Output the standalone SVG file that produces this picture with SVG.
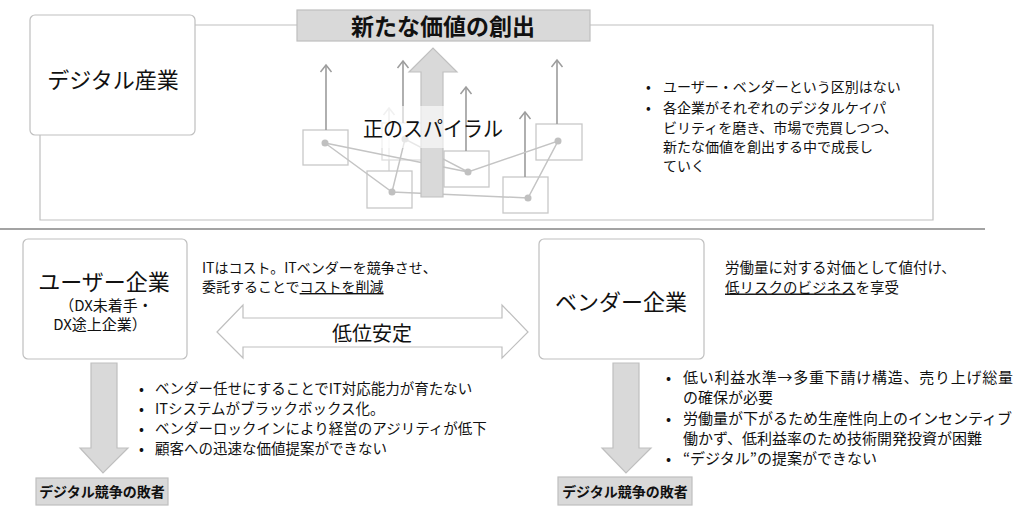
<svg xmlns="http://www.w3.org/2000/svg" width="1024" height="516" viewBox="0 0 1024 516">
<style>
text{font-family:"Noto Sans CJK JP","Noto Sans",sans-serif;fill:#111}
.box{fill:#fff;stroke:#bfbfbf;stroke-width:1.2}
.gbox{fill:#d9d9d9;stroke:#bfbfbf;stroke-width:1.2}
.frame{fill:none;stroke:#bfbfbf;stroke-width:1.2}
.sb{fill:none;stroke:#c8c8c8;stroke-width:1.3}
.sl{fill:none;stroke:#c4c4c4;stroke-width:1.5}
.sa{fill:none;stroke:#9c9c9c;stroke-width:1.6}
.dot{fill:#c0c0c0}
.t14{font-size:14px}
.t145{font-size:14.5px}
.t15{font-size:15px}
.b14{font-size:14px;font-weight:700}
.mid{text-anchor:middle}
</style>
<defs>
<marker id="oa" viewBox="-8 -7 10 14" refX="0" refY="0" markerWidth="10" markerHeight="14" orient="auto" markerUnits="userSpaceOnUse">
<path d="M-7,-5.5 L0,0 L-7,5.5" fill="none" stroke="#9c9c9c" stroke-width="1.5"/>
</marker>
<marker id="oaf" viewBox="-8 -7 10 14" refX="0" refY="0" markerWidth="10" markerHeight="14" orient="auto" markerUnits="userSpaceOnUse">
<path d="M-7,-5.5 L0,0 L-7,5.5" fill="none" stroke="#dadada" stroke-width="1.5"/>
</marker>
</defs>
<rect width="1024" height="516" fill="#fff"/>

<!-- frame of top section -->
<path class="frame" d="M195,25 H297 M590,25 H933 V220 H40 V135"/>
<line x1="0" y1="229" x2="985" y2="229" stroke="#858585" stroke-width="1.5"/>

<g id="digital">
<rect class="box" x="30" y="15" width="165" height="120" rx="5"/>
<text class="mid" x="113" y="88" font-size="22">デジタル産業</text>
</g>

<g id="title">
<rect class="gbox" x="297" y="10" width="293" height="31"/>
<text class="mid" x="443" y="34.5" font-size="23" font-weight="700">新たな価値の創出</text>
</g>

<g id="spiral">
<line x1="389" y1="171" x2="389" y2="108" stroke="#dadada" stroke-width="1.5" marker-end="url(#oaf)"/>
<rect x="382" y="123" width="45" height="37" fill="#fff" fill-opacity="0.6" stroke="#dedede" stroke-width="1.3"/>
<rect class="sb" x="303" y="130" width="45" height="35"/>
<rect class="sb" x="367" y="171" width="45" height="37"/>
<rect class="sb" x="444" y="151" width="45" height="36"/>
<rect class="sb" x="503" y="177" width="45" height="36"/>
<rect class="sb" x="536" y="124" width="46" height="36"/>
<line class="sa" x1="326" y1="130" x2="326" y2="65" marker-end="url(#oa)"/>
<line class="sa" x1="403" y1="123" x2="403" y2="61" marker-end="url(#oa)"/>
<line class="sa" x1="466" y1="151" x2="466" y2="87" marker-end="url(#oa)"/>
<line class="sa" x1="525" y1="177" x2="525" y2="112" marker-end="url(#oa)"/>
<line class="sa" x1="557" y1="124" x2="557" y2="60" marker-end="url(#oa)"/>
<path class="sl" d="M325,143 L468,172 M325,143 L392,192 L405,139 L468,172 L558,141 L528,198 L392,192"/>
<circle class="dot" cx="325" cy="143" r="3.5"/>
<circle class="dot" cx="405" cy="139" r="3.5"/>
<circle class="dot" cx="392" cy="192" r="3.5"/>
<circle class="dot" cx="468" cy="172" r="3.5"/>
<circle class="dot" cx="528" cy="198" r="3.5"/>
<circle class="dot" cx="558" cy="141" r="3.5"/>
<polygon points="421,197 443,197 443,72 457,72 433,48 409,72 421,72" fill="#d9d9d9" stroke="#c0c0c0" stroke-width="1.2"/>
<rect x="378" y="106" width="70" height="42" fill="#fff" fill-opacity="0.6"/>
<text x="363" y="136" font-size="21" textLength="140" lengthAdjust="spacingAndGlyphs">正のスパイラル</text>
</g>

<g id="top-bullets" class="t14">
<text x="646" y="92">•</text><text x="663" y="92">ユーザー・ベンダーという区別はない</text>
<text x="646" y="112.5">•</text><text x="663" y="112.5">各企業がそれぞれのデジタルケイパ</text>
<text x="663" y="132.5">ビリティを磨き、市場で売買しつつ、</text>
<text x="663" y="152">新たな価値を創出する中で成長し</text>
<text x="663" y="171">ていく</text>
</g>

<g id="user">
<rect class="box" x="23" y="239" width="164" height="120" rx="5"/>
<text class="mid" x="104" y="290" font-size="22">ユーザー企業</text>
<text class="mid" x="106" y="311" font-size="15">（DX未着手・</text>
<text class="mid" x="100" y="330" font-size="15">DX途上企業）</text>
</g>

<g id="user-desc" class="t14">
<text x="202" y="273">ITはコスト。ITベンダーを競争させ、</text>
<text x="202" y="292">委託することで<tspan text-decoration="underline">コストを削減</tspan></text>
</g>

<g id="vendor">
<rect class="box" x="539" y="239" width="165" height="120" rx="5"/>
<text class="mid" x="621" y="310" font-size="22">ベンダー企業</text>
</g>

<g id="vendor-desc" class="t145">
<text x="725" y="272.5">労働量に対する対価として値付け、</text>
<text x="725" y="292.5"><tspan text-decoration="underline">低リスクのビジネス</tspan>を享受</text>
</g>

<g id="connectors">
<polygon points="217,332 243,305 243,318 502,318 502,305 528,332 502,358 502,347 243,347 243,358" fill="#fff" stroke="#bfbfbf" stroke-width="1.2"/>
<text class="mid" x="372" y="340.5" font-size="20">低位安定</text>
<polygon points="91,363 117,363 117,448 128,448 103,473 80,448 91,448" fill="#d9d9d9" stroke="#bfbfbf" stroke-width="1.2"/>
<polygon points="613,363 639,363 639,448 651,448 626,473 602,448 613,448" fill="#d9d9d9" stroke="#bfbfbf" stroke-width="1.2"/>
</g>

<g id="user-bullets" class="t145">
<text x="139" y="393.5">•</text><text x="155" y="393.5">ベンダー任せにすることでIT対応能力が育たない</text>
<text x="139" y="413.5">•</text><text x="155" y="413.5">ITシステムがブラックボックス化。</text>
<text x="139" y="433.5">•</text><text x="155" y="433.5">ベンダーロックインにより経営のアジリティが低下</text>
<text x="139" y="453.5">•</text><text x="155" y="453.5">顧客への迅速な価値提案ができない</text>
</g>

<g id="vendor-bullets" class="t15">
<text x="666" y="383">•</text><text x="683" y="383" textLength="330" lengthAdjust="spacing">低い利益水準→多重下請け構造、売り上げ総量</text>
<text x="683" y="403">の確保が必要</text>
<text x="666" y="423.5">•</text><text x="683" y="423.5">労働量が下がるため生産性向上のインセンティブ</text>
<text x="683" y="443.5">働かず、低利益率のため技術開発投資が困難</text>
<text x="666" y="464">•</text><text x="683" y="464">“デジタル”の提案ができない</text>
</g>

<g id="loser-left">
<rect class="gbox" x="36" y="478" width="132" height="27"/>
<text class="mid b14" x="102" y="497">デジタル競争の敗者</text>
</g>

<g id="loser-right">
<rect class="gbox" x="558" y="477" width="134" height="28"/>
<text class="mid b14" x="625" y="496.5">デジタル競争の敗者</text>
</g>
</svg>
